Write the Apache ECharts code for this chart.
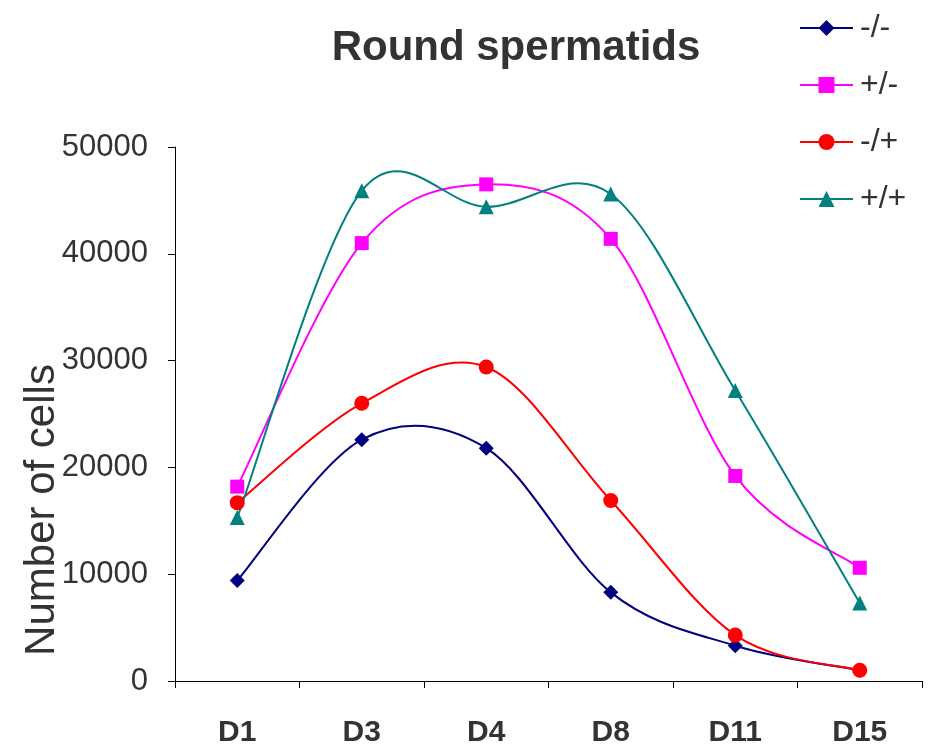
<!DOCTYPE html>
<html>
<head>
<meta charset="utf-8">
<script src="https://cdn.jsdelivr.net/npm/echarts@6/dist/echarts.min.js"></script>
<style>
  html, body { margin: 0; padding: 0; background: #fff; }
  #chart { width: 931px; height: 750px; }
</style>
</head>
<body>
<div id="chart"></div>
<script>
// Days sampled
const days = ['D1', 'D3', 'D4', 'D8', 'D11', 'D15'];

// Round spermatid counts per genotype
const koKo = [9400, 22600, 21800, 8300, 3300, 1000];     // -/-
const hetA = [18200, 41000, 46500, 41400, 19200, 10600]; // +/-
const hetB = [16700, 26000, 29400, 16900, 4300, 1000];   // -/+
const wt   = [15300, 45900, 44400, 45600, 27200, 7300];  // +/+

const yTicks = { min: 0, max: 50000, step: 10000 };

const font = 'Liberation Sans, Arial, sans-serif';

const genotypes = [
  { name: '-/-', data: koKo, color: '#000080', symbol: 'diamond', size: 15 },
  { name: '+/-', data: hetA, color: '#ff00ff', symbol: 'rect', size: 14 },
  { name: '-/+', data: hetB, color: '#ff0000', symbol: 'circle', size: 15 },
  { name: '+/+', data: wt,   color: '#008080', symbol: 'triangle', size: 15 }
];

// Cardinal (Catmull-Rom) spline through the projected points, spreadsheet-style smoothing
function splinePath(pts) {
  let d = 'M' + pts[0][0] + ' ' + pts[0][1];
  for (let i = 0; i < pts.length - 1; i++) {
    const p0 = pts[i - 1] || pts[i];
    const p1 = pts[i];
    const p2 = pts[i + 1];
    const p3 = pts[i + 2] || pts[i + 1];
    const c1x = p1[0] + (p2[0] - p0[0]) / 6;
    const c1y = p1[1] + (p2[1] - p0[1]) / 6;
    const c2x = p2[0] - (p3[0] - p1[0]) / 6;
    const c2y = p2[1] - (p3[1] - p1[1]) / 6;
    d += ' C' + c1x + ' ' + c1y + ' ' + c2x + ' ' + c2y + ' ' + p2[0] + ' ' + p2[1];
  }
  return d;
}

function curveSeries(g) {
  return {
    type: 'custom',
    name: g.name + ' curve',
    data: g.data.map(function (v, i) { return [i, v]; }),
    encode: { x: 0, y: 1 },
    clip: false,
    silent: true,
    z: 2,
    renderItem: function (params, api) {
      if (params.dataIndex !== 0) return null;
      const pts = g.data.map(function (v, i) { return api.coord([i, v]); });
      return {
        type: 'path',
        shape: { pathData: splinePath(pts) },
        style: { stroke: g.color, lineWidth: 2, fill: null }
      };
    }
  };
}

function markerSeries(g) {
  return {
    name: g.name,
    type: 'line',
    data: g.data,
    symbol: g.symbol,
    symbolSize: g.size,
    showSymbol: true,
    lineStyle: { color: g.color, width: 2, opacity: 0 },
    itemStyle: { color: g.color },
    emphasis: { disabled: true },
    z: 3
  };
}

const chart = echarts.init(document.getElementById('chart'), null, { renderer: 'canvas' });
chart.setOption({
  animation: false,
  backgroundColor: '#ffffff',
  title: {
    text: 'Round spermatids',
    left: 511,
    top: 22,
    textAlign: 'center',
    textStyle: { fontFamily: font, fontWeight: 'bold', fontSize: 42, color: '#333333' }
  },
  legend: {
    orient: 'vertical',
    left: 794,
    top: 7,
    itemWidth: 53,
    itemHeight: 20,
    itemGap: 25,
    textStyle: { fontFamily: font, fontSize: 32, lineHeight: 32, color: '#333333', padding: [0, 0, 0, 2] },
    data: genotypes.map(function (g) {
      return { name: g.name, lineStyle: { color: g.color, width: 2, opacity: 1 } };
    })
  },
  grid: { left: 175, right: 9, top: 147, bottom: 69, containLabel: false },
  xAxis: {
    type: 'category',
    data: days,
    boundaryGap: true,
    axisLine: { lineStyle: { color: '#000000', width: 1 } },
    axisTick: { show: true, length: 7, inside: false, lineStyle: { color: '#000' } },
    axisLabel: { fontFamily: font, fontWeight: 'bold', fontSize: 30, color: '#333333', margin: 37 },
    splitLine: { show: false }
  },
  yAxis: {
    type: 'value',
    min: yTicks.min,
    max: yTicks.max,
    interval: yTicks.step,
    axisLine: { show: true, lineStyle: { color: '#000000', width: 1 } },
    axisTick: { show: true, length: 7, lineStyle: { color: '#000' } },
    axisLabel: {
      fontFamily: font, fontSize: 31, color: '#333333', margin: 27,
      formatter: function (v) { return String(v); }
    },
    splitLine: { show: false }
  },
  graphic: [{
    type: 'text',
    x: 42,
    y: 510,
    rotation: Math.PI / 2,
    style: {
      text: 'Number of cells',
      font: '42px ' + font,
      fill: '#333333',
      align: 'center',
      verticalAlign: 'middle'
    }
  }],
  series: genotypes.map(markerSeries).concat(genotypes.map(curveSeries))
});
</script>
</body>
</html>
